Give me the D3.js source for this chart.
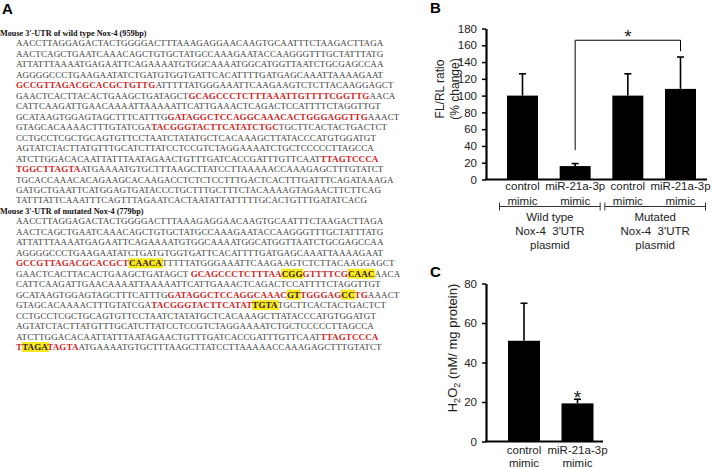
<!DOCTYPE html>
<html>
<head>
<meta charset="utf-8">
<script src="https://cdn.jsdelivr.net/npm/d3@7"></script>
<style>
  body { margin: 0; background: #fff; }
  svg { display: block; }
  .seq { font-family: "Liberation Serif", "Times New Roman", serif; font-size: 9px; letter-spacing: 0.12px; fill: #3a3a3a; }
  .seq .r { fill: #d01f1f; font-weight: bold; }
  .seq .h { fill: #3a1a1a; font-weight: bold; }
  .hdr { font-family: "Liberation Serif", serif; font-size: 8.2px; font-weight: bold; fill: #111; }
  .plabel { font-family: "Liberation Sans", Arial, sans-serif; font-size: 15px; font-weight: bold; }
  .lbl { font-family: "Liberation Sans", Arial, sans-serif; font-size: 11.5px; fill: #222; }
  .star { font-family: "Liberation Sans", Arial, sans-serif; font-size: 19px; fill: #222; }
  .axis text { font-family: "Liberation Sans", Arial, sans-serif; font-size: 11.5px; fill: #222; }
  .axis path, .axis line { stroke: #000; }
</style>
</head>
<body>
<svg id="fig" width="713" height="468"></svg>
<script>
// ---- panel A: sequences. {..} = red seed region, [..] = mutated (highlighted) bases
const wtTitle = "Mouse 3'-UTR of wild type Nox-4 (959bp)";
const wtLines = [
  "AACCTTAGGAGACTACTGGGGACTTTAAAGAGGAACAAGTGCAATTTCTAAGACTTAGA",
  "AACTCAGCTGAATCAAACAGCTGTGCTATGCCAAAGAATACCAAGGGTTTGCTATTTATG",
  "ATTATTTAAAATGAGAATTCAGAAAATGTGGCAAAATGGCATGGTTAATCTGCGAGCCAA",
  "AGGGGCCCTGAAGAATATCTGATGTGGTGATTCACATTTTGATGAGCAAATTAAAAGAAT",
  "{GCCGTTAGACGCACGCTGTTG}ATTTTTATGGGAAATTCAAGAAGTCTCTTACAAGGAGCT",
  "GAACTCACTTACACTGAAGCTGATAGCT{GCAGCCCTCTTTAAATTGTTTTCGGTTG}AACA",
  "CATTCAAGATTGAACAAAATTAAAAATTCATTGAAACTCAGACTCCATTTTCTAGGTTGT",
  "GCATAAGTGGAGTAGCTTTCATTTG{GATAGGCTCCAGGCAAACACTGGGAGGTTG}AAACT",
  "GTAGCACAAAACTTTGTATCGA{TACGGGTACTTCATATCTGC}TGCTTCACTACTGACTCT",
  "CCTGCCTCGCTGCAGTGTTCCTAATCTATATGCTCACAAAGCTTATACCCATGTGGATGT",
  "AGTATCTACTTATGTTTGCATCTTATCCTCCGTCTAGGAAAATCTGCTCCCCCTTAGCCA",
  "ATCTTGGACACAATTATTTAATAGAACTGTTTGATCACCGATTTGTTCAAT{TTAGTCCCA}",
  "{TGGCTTAGTA}ATGAAAATGTGCTTTAAGCTTATCCTTAAAAACCAAAGAGCTTTGTATCT",
  "TGCACCAAACACAGAAGCACAAGACCTCTCTCCTTTGACTCACTTTGATTTCAGATAAAGA",
  "GATGCTGAATTCATGGAGTGATACCCTGCTTTGCTTTCTACAAAAGTAGAACTTCTTCAG",
  "TATTTATTCAAATTTCAGTTTAGAATCACTAATATTATTTTTGCACTGTTTGATATCACG"
];
const mutTitle = "Mouse 3'-UTR of mutated Nox-4 (779bp)";
const mutLines = [
  "AACCTTAGGAGACTACTGGGGACTTTAAAGAGGAACAAGTGCAATTTCTAAGACTTAGA",
  "AACTCAGCTGAATCAAACAGCTGTGCTATGCCAAAGAATACCAAGGGTTTGCTATTTATG",
  "ATTATTTAAAATGAGAATTCAGAAAATGTGGCAAAATGGCATGGTTAATCTGCGAGCCAA",
  "AGGGGCCCTGAAGAATATCTGATGTGGTGATTCACATTTTGATGAGCAAATTAAAAGAAT",
  "{GCCGTTAGACGCACGCT}[CAACA]TTTTTATGGGAAATTCAAGAAGTCTCTTACAAGGAGCT",
  "GAACTCACTTACACTGAAGCTGATAGCT {GCAGCCCTCTTTAA}[CGG]{GTTTTCG}[CAAC]AACA",
  "CATTCAAGATTGAACAAAATTAAAAATTCATTGAAACTCAGACTCCATTTTCTAGGTTGT",
  "GCATAAGTGGAGTAGCTTTCATTTG{GATAGGCTCCAGGCAAAC}[GT]{TGGGAG}[CC]{TG}AAACT",
  "GTAGCACAAAACTTTGTATCGA{TACGGGTACTTCATAT}[TGTA]TGCTTCACTACTGACTCT",
  "CCTGCCTCGCTGCAGTGTTCCTAATCTATATGCTCACAAAGCTTATACCCATGTGGATGT",
  "AGTATCTACTTATGTTTGCATCTTATCCTCCGTCTAGGAAAATCTGCTCCCCCTTAGCCA",
  "ATCTTGGACACAATTATTTAATAGAACTGTTTGATCACCGATTTGTTCAAT{TTAGTCCCA}",
  "{T}[TAGA]{TAGTA}ATGAAAATGTGCTTTAAGCTTATCCTTAAAAACCAAAGAGCTTTGTATCT"
];

// ---- panel B: luciferase reporter
const catsB = ["wt-ctrl", "wt-mir", "mut-ctrl", "mut-mir"];
const labelsB = [["control", "mimic"], ["miR-21a-3p", "mimic"], ["control", "mimic"], ["miR-21a-3p", "mimic"]];
const valuesB = [100, 16, 100, 108];
const errorsB = [26, 3, 26, 38];
const groupsB = [
  { members: ["wt-ctrl", "wt-mir"], lines: ["Wild type", "Nox-4  3'UTR", "plasmid"] },
  { members: ["mut-ctrl", "mut-mir"], lines: ["Mutated", "Nox-4  3'UTR", "plasmid"] }
];
const ticksB = [0, 20, 40, 60, 80, 100, 120, 140, 160, 180];
const bracketB = { from: "wt-mir", to: "mut-mir", top: 166, leftEnd: 35, rightEnd: 153, star: 176 };

// ---- panel C: H2O2
const catsC = ["ctrl", "mir"];
const labelsC = [["control", "mimic"], ["miR-21a-3p", "mimic"]];
const valuesC = [51, 19.3];
const errorsC = [19, 2.1];
const ticksC = [0, 20, 40, 60, 80];
const starC = 24.5;

const svg = d3.select("#fig");

// ================= Panel A =================
function parseLine(s) {
  const segs = [];
  const re = /\{([^}]*)\}|\[([^\]]*)\]|([^{\[]+)/g;
  let m;
  while ((m = re.exec(s))) {
    if (m[1] !== undefined) segs.push({ t: m[1], type: "r" });
    else if (m[2] !== undefined) segs.push({ t: m[2], type: "h" });
    else segs.push({ t: m[3], type: "n" });
  }
  return segs;
}

const rows = [{ title: wtTitle }]
  .concat(wtLines.map(l => ({ seq: l })))
  .concat([{ title: mutTitle }])
  .concat(mutLines.map(l => ({ seq: l })));

const rowY = d3.scaleLinear().domain([0, rows.length - 1]).range([33, 347]);

svg.append("text").attr("class", "plabel").attr("x", 2).attr("y", 14).text("A");

const hlLayer = svg.append("g");
const seqLayer = svg.append("g");

rows.forEach((row, i) => {
  const y = rowY(i) + 3;
  if (row.title) {
    seqLayer.append("text").attr("class", "hdr").attr("x", 0).attr("y", y).text(row.title);
    return;
  }
  const t = seqLayer.append("text").attr("class", "seq").attr("x", 16).attr("y", y)
    .attr("xml:space", "preserve");
  t.selectAll("tspan")
    .data(parseLine(row.seq))
    .enter()
    .append("tspan")
    .attr("class", d => d.type)
    .text(d => d.t);
  t.selectAll("tspan.h").each(function () {
    const bb = this.getBBox();
    hlLayer.append("rect")
      .attr("x", bb.x - 0.5).attr("y", rowY(i) - 5)
      .attr("width", bb.width + 1).attr("height", 10)
      .attr("fill", "#f6ea1e");
  });
});

// ================= Panel B =================
const yB = d3.scaleLinear().domain([0, 180]).range([179.5, 28.5]);
const xB = d3.scalePoint().domain(catsB).range([522.5, 680.5]);
const barW = 31;

svg.append("text").attr("class", "plabel").attr("x", 430).attr("y", 13).text("B");

svg.append("g")
  .attr("class", "axis")
  .attr("transform", "translate(486,0)")
  .call(d3.axisLeft(yB).tickValues(ticksB).tickSize(4).tickSizeOuter(0).tickPadding(5))
  .call(g => g.select(".domain").attr("stroke-width", 2.2))
  .call(g => g.selectAll(".tick line").attr("stroke-width", 1.5));

svg.append("line")
  .attr("x1", 485).attr("x2", 707)
  .attr("y1", yB(0)).attr("y2", yB(0))
  .attr("stroke", "#000").attr("stroke-width", 2.2);

const barsB = svg.append("g");
barsB.selectAll("rect")
  .data(catsB)
  .enter()
  .append("rect")
  .attr("x", d => xB(d) - barW / 2)
  .attr("y", (d, i) => yB(valuesB[i]))
  .attr("width", barW)
  .attr("height", (d, i) => yB(0) - yB(valuesB[i]))
  .attr("fill", "#000");

function errorBars(g, cats, x, y, vals, errs) {
  cats.forEach((c, i) => {
    g.append("line")
      .attr("x1", x(c)).attr("x2", x(c))
      .attr("y1", y(vals[i])).attr("y2", y(vals[i] + errs[i]))
      .attr("stroke", "#000").attr("stroke-width", 1.6);
    g.append("line")
      .attr("x1", x(c) - 3.5).attr("x2", x(c) + 3.5)
      .attr("y1", y(vals[i] + errs[i])).attr("y2", y(vals[i] + errs[i]))
      .attr("stroke", "#000").attr("stroke-width", 1.6);
  });
}
errorBars(barsB, catsB, xB, yB, valuesB, errorsB);

// significance bracket
svg.append("path")
  .attr("d", d3.line()([
    [xB(bracketB.from), yB(bracketB.leftEnd)],
    [xB(bracketB.from), yB(bracketB.top)],
    [xB(bracketB.to), yB(bracketB.top)],
    [xB(bracketB.to), yB(bracketB.rightEnd)]
  ]))
  .attr("fill", "none").attr("stroke", "#000").attr("stroke-width", 1);
svg.append("text")
  .attr("class", "star")
  .attr("x", (xB(bracketB.from) + xB(bracketB.to)) / 2)
  .attr("y", yB(bracketB.star) + 11)
  .attr("text-anchor", "middle")
  .text("*");

// category labels
function catLabels(cats, labels, x, y0, gap) {
  cats.forEach((c, i) => {
    labels[i].forEach((s, j) => {
      svg.append("text").attr("class", "lbl")
        .attr("x", x(c)).attr("y", y0 + j * gap)
        .attr("text-anchor", "middle").text(s);
    });
  });
}
catLabels(catsB, labelsB, xB, 190, 14.5);

// y label
svg.append("text").attr("class", "lbl")
  .attr("transform", "translate(444,89) rotate(-90)")
  .attr("text-anchor", "middle").style("font-size", "12px")
  .text("FL/RL ratio");
svg.append("text").attr("class", "lbl")
  .attr("transform", "translate(459,89) rotate(-90)")
  .attr("text-anchor", "middle").style("font-size", "12px")
  .text("(% change)");

// group brackets
groupsB.forEach(gr => {
  const x0 = xB(gr.members[0]) - 23;
  const x1 = xB(gr.members[1]) + 25;
  const gy = 206.5;
  svg.append("path")
    .attr("d", `M${x0},${gy - 4}V${gy + 4}M${x0},${gy}H${x1}M${x1},${gy - 4}V${gy + 4}`)
    .attr("fill", "none").attr("stroke", "#333").attr("stroke-width", 1);
  gr.lines.forEach((s, j) => {
    svg.append("text").attr("class", "lbl")
      .attr("x", (x0 + x1) / 2).attr("y", 221 + j * 14)
      .attr("text-anchor", "middle")
      .attr("xml:space", "preserve")
      .text(s);
  });
});

// ================= Panel C =================
const yC = d3.scaleLinear().domain([0, 80]).range([441.5, 283.5]);
const xC = d3.scalePoint().domain(catsC).range([524, 577.5]);
const barWC = 32;

svg.append("text").attr("class", "plabel").attr("x", 430).attr("y", 277).text("C");

svg.append("g")
  .attr("class", "axis")
  .attr("transform", "translate(486,0)")
  .call(d3.axisLeft(yC).tickValues(ticksC).tickSize(4).tickSizeOuter(0).tickPadding(5))
  .call(g => g.select(".domain").attr("stroke-width", 2.2))
  .call(g => g.selectAll(".tick line").attr("stroke-width", 1.5));

svg.append("line")
  .attr("x1", 485).attr("x2", 603)
  .attr("y1", yC(0)).attr("y2", yC(0))
  .attr("stroke", "#000").attr("stroke-width", 2.2);

const barsC = svg.append("g");
barsC.selectAll("rect")
  .data(catsC)
  .enter()
  .append("rect")
  .attr("x", d => xC(d) - barWC / 2)
  .attr("y", (d, i) => yC(valuesC[i]))
  .attr("width", barWC)
  .attr("height", (d, i) => yC(0) - yC(valuesC[i]))
  .attr("fill", "#000");
errorBars(barsC, catsC, xC, yC, valuesC, errorsC);

svg.append("text").attr("class", "star")
  .attr("x", xC("mir")).attr("y", yC(starC) + 11)
  .attr("text-anchor", "middle")
  .text("*");

catLabels(catsC, labelsC, xC, 454, 12.5);

const yl = svg.append("text").attr("class", "lbl")
  .attr("transform", "translate(457,348) rotate(-90)")
  .attr("text-anchor", "middle").style("font-size", "13px");
yl.append("tspan").text("H");
yl.append("tspan").attr("dy", 3).style("font-size", "9px").text("2");
yl.append("tspan").attr("dy", -3).text("O");
yl.append("tspan").attr("dy", 3).style("font-size", "9px").text("2");
yl.append("tspan").attr("dy", -3).text(" (nM/ mg protein)");
</script>
</body>
</html>
